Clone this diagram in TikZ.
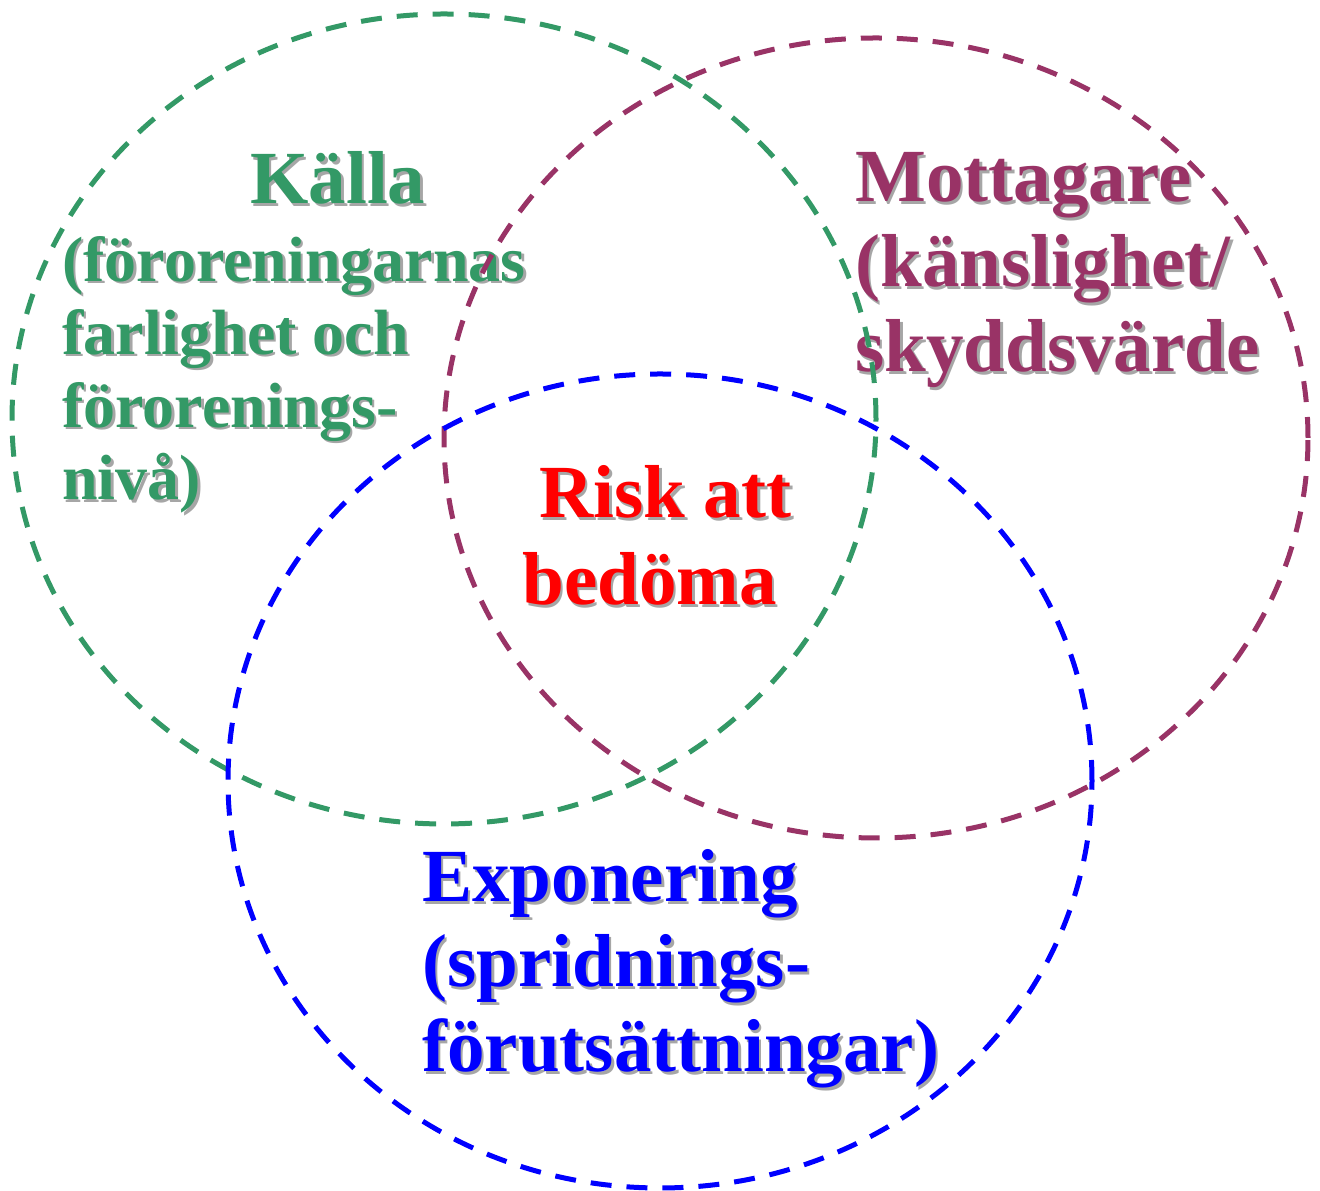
\documentclass[tikz,border=0pt]{standalone}
\usepackage{fontspec}
\setmainfont{Liberation Serif}

\definecolor{kallagreen}{HTML}{339966}
\definecolor{mottpurple}{HTML}{993366}
\definecolor{shadowgray}{HTML}{A6A6A6}

\newcommand{\shline}[1]{\makebox[0pt][l]{\hspace{0.05cm}\raisebox{-0.05cm}{\color{shadowgray}#1}}#1}

\tikzset{
  ring/.style={line width=0.1cm, dash pattern=on 0.42cm off 0.3cm},
  venntext/.style={anchor=base west, inner sep=0pt, align=left,
    font=\bfseries\fontsize{42.7pt}{48.4pt}\selectfont},
  smalltext/.style={venntext, font=\bfseries\fontsize{36.4pt}{41.5pt}\selectfont}
}

\begin{document}
\begin{tikzpicture}
\useasboundingbox (0,0) rectangle (26.4,23.82);

\node[venntext, text=kallagreen] (kalla) at (5.0, 19.74) {\shline{Källa}};
\node[smalltext, text=kallagreen] (kallatext) at (1.24, 13.82)
  {\shline{(föroreningarnas}\\ \shline{farlighet och}\\ \shline{förorenings-}\\ \shline{nivå)}};

\node[venntext, text=mottpurple] (mottagare) at (17.1, 16.38)
  {\shline{Mottagare}\\ \shline{(känslighet/}\\ \shline{skyddsvärde}};

\node[venntext, text=red, font=\bfseries\fontsize{42.7pt}{49.5pt}\selectfont] (risk) at (10.44, 11.72)
  {\hspace*{0.34cm}\shline{Risk att}\\ \shline{bedöma}};

\node[venntext, text=blue] (exponering) at (8.44, 2.38)
  {\shline{Exponering}\\ \shline{(spridnings-}\\ \shline{förutsättningar)}};

\draw[ring, kallagreen] (8.88, 15.44) ellipse (8.64 and 8.10);
\draw[ring, mottpurple] (17.52, 15.06) ellipse (8.64 and 8.00);
\draw[ring, blue] (13.20, 8.20) ellipse (8.64 and 8.14);
\end{tikzpicture}
\end{document}
